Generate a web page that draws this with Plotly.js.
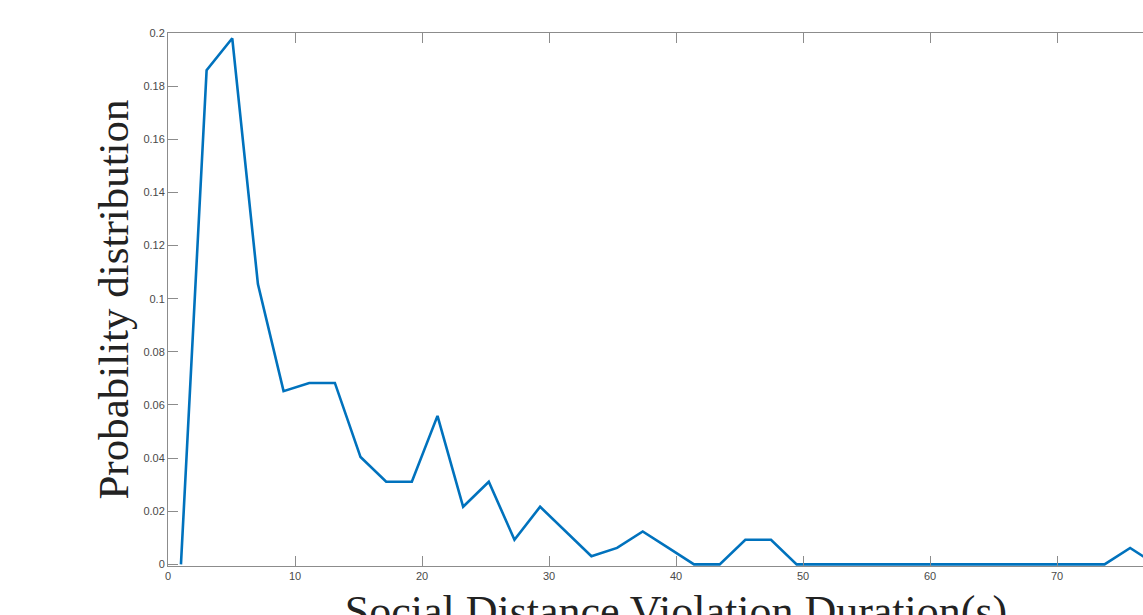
<!DOCTYPE html>
<html>
<head>
<meta charset="utf-8">
<script src="https://cdn.plot.ly/plotly-3.0.1.min.js"></script>
<style>
html, body { margin: 0; padding: 0; overflow: hidden; background: #fff; }
#chart { width: 1200px; height: 680px; }
</style>
</head>
<body>
<div id="chart"></div>
<script>
// Bin centres (s) and probability values
const durations = [1.02, 3.04, 5.06, 7.08, 9.10, 11.12, 13.14, 15.16, 17.18, 19.20,
  21.22, 23.24, 25.26, 27.28, 29.30, 31.32, 33.34, 35.36, 37.38, 39.40,
  41.42, 43.44, 45.46, 47.48, 49.50, 51.52, 53.54, 55.56, 57.58, 59.60,
  61.62, 63.64, 65.66, 67.68, 69.70, 71.72, 73.74, 75.76, 77.78];
const probability = [0, 0.186, 0.198, 0.1055, 0.0652, 0.0683, 0.0683, 0.0404, 0.0311, 0.0311,
  0.0559, 0.0217, 0.0311, 0.0093, 0.0217, 0.0124, 0.0031, 0.0062, 0.0124, 0.0062,
  0, 0, 0.0093, 0.0093, 0, 0, 0, 0, 0, 0,
  0, 0, 0, 0, 0, 0, 0, 0.0062, 0];
const xTicks = [0, 10, 20, 30, 40, 50, 60, 70, 80];
const yTicks = [0, 0.02, 0.04, 0.06, 0.08, 0.1, 0.12, 0.14, 0.16, 0.18, 0.2];
const xTitle = 'Social Distance Violation Duration(s)';
const yTitle = 'Probability distribution';

const axisCommon = {
  showgrid: false, zeroline: false,
  showline: true, linecolor: '#8c8c8c', linewidth: 1,
  ticks: 'inside', ticklen: 10, tickwidth: 1, tickcolor: '#8c8c8c',
  tickfont: { family: 'Liberation Sans, Arial, sans-serif', size: 11, color: '#4a4a4a' },
  mirror: 'ticks'
};

const trace = {
  x: durations, y: probability, type: 'scatter', mode: 'lines',
  line: { color: '#0072BD', width: 2.6 },
  hoverinfo: 'x+y'
};

const layout = {
  width: 1200, height: 680,
  margin: { l: 168, r: 16, t: 33, b: 114 },
  paper_bgcolor: '#ffffff', plot_bgcolor: '#ffffff',
  showlegend: false,
  xaxis: Object.assign({}, axisCommon, {
    range: [0, 80], tickmode: 'array', tickvals: xTicks, ticktext: xTicks.map(String),
    title: { text: xTitle, standoff: 13,
      font: { family: 'Liberation Serif, Times New Roman, serif', size: 44, color: '#222' } }
  }),
  yaxis: Object.assign({}, axisCommon, {
    range: [-0.0006, 0.2], tickmode: 'array', tickvals: yTicks, ticktext: yTicks.map(String),
    title: { text: yTitle, standoff: 1,
      font: { family: 'Liberation Serif, Times New Roman, serif', size: 43, color: '#222' } }
  })
};

Plotly.newPlot('chart', [trace], layout, { displayModeBar: false, staticPlot: true });
</script>
</body>
</html>
